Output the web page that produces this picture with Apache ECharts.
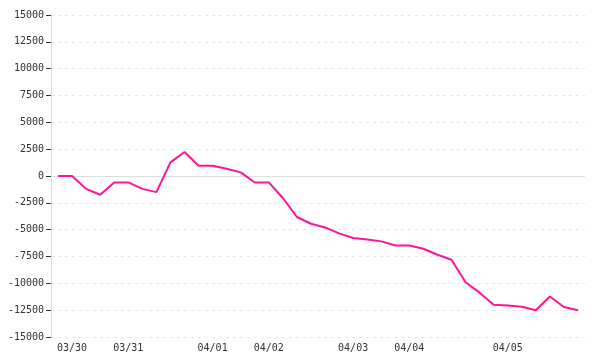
<!DOCTYPE html>
<html>
<head>
<meta charset="utf-8">
<script src="https://cdn.jsdelivr.net/npm/echarts@6/dist/echarts.min.js"></script>
<style>
html,body{margin:0;padding:0;background:#fff;}
#chart{width:600px;height:360px;}
</style>
</head>
<body>
<div id="chart"></div>
<script>
// Data points (38 samples)
var categories = ['0','1','2','3','4','5','6','7','8','9','10','11','12','13','14','15','16','17','18','19','20','21','22','23','24','25','26','27','28','29','30','31','32','33','34','35','36','37'];
var values = [0, 0, -1200, -1750, -600, -600, -1200, -1500, 1270, 2240, 960,
  960, 680, 340, -600, -600, -2050, -3820, -4450, -4790, -5350,
  -5780, -5910, -6090, -6470, -6470, -6780, -7340, -7800, -9900, -10870,
  -12000, -12060, -12180, -12500, -11220, -12200, -12500];
// x tick labels: category index -> date label
var labelIndex = [1, 5, 11, 15, 21, 25, 32];
var labelText = ['03/30', '03/31', '04/01', '04/02', '04/03', '04/04', '04/05'];
var yTicks = [-15000, -12500, -10000, -7500, -5000, -2500, 0, 2500, 5000, 7500, 10000, 12500, 15000];

var FONT = 'DejaVu Sans Mono';
var chart = echarts.init(document.getElementById('chart'), null, {renderer: 'canvas'});
chart.setOption({
  animation: false,
  backgroundColor: '#fff',
  grid: {left: 51, right: 15, top: 15, bottom: 23, containLabel: false},
  xAxis: {
    type: 'category',
    data: categories,
    boundaryGap: true,
    axisLine: {show: false},
    axisTick: {show: false},
    splitLine: {show: false},
    axisLabel: {
      interval: 0,
      margin: 6,
      color: '#333',
      fontFamily: FONT,
      fontSize: 10,
      formatter: function (v, i) {
        var k = labelIndex.indexOf(i);
        return k >= 0 ? labelText[k] : '';
      }
    }
  },
  yAxis: {
    type: 'value',
    min: yTicks[0],
    max: yTicks[yTicks.length - 1],
    interval: yTicks[1] - yTicks[0],
    axisLine: {show: true, lineStyle: {color: '#dddddd', width: 1}},
    axisTick: {show: true, length: 5, lineStyle: {color: '#333', width: 1}},
    axisLabel: {
      margin: 7, color: '#333', fontFamily: FONT, fontSize: 10,
      formatter: function (v) { return String(v); }
    },
    splitLine: {show: true, lineStyle: {color: '#e6e6e6', type: [3, 4], width: 1}}
  },
  series: [{
    type: 'line',
    data: [],
    z: 1,
    markLine: {
      silent: true,
      z: 1,
      symbol: ['none', 'none'],
      label: {show: false},
      lineStyle: {color: '#dddddd', type: 'solid', width: 1},
      data: [{yAxis: 0}]
    }
  }, {
    type: 'line',
    data: values,
    symbol: 'none',
    smooth: false,
    lineStyle: {color: '#ff1493', width: 2},
    itemStyle: {color: '#ff1493'},
    z: 10
  }]
});
</script>
</body>
</html>
